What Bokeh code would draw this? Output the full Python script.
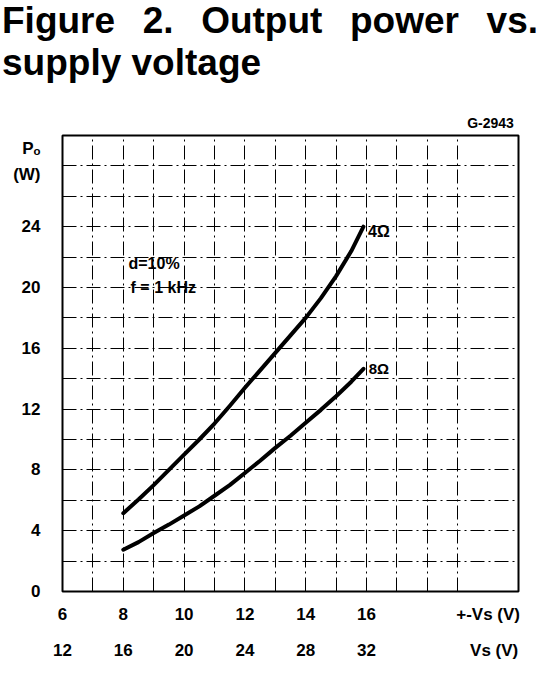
from bokeh.plotting import figure
from bokeh.models import Div, LinearAxis, FixedTicker, Range1d, Grid
from bokeh.layouts import column
from bokeh.embed import file_html
from bokeh.resources import INLINE
from bokeh.core.properties import value

# ---------------- data ----------------
title_text = "Figure 2. Output power vs. supply voltage"

vs_4ohm = [8, 8.5, 9, 9.5, 10, 10.5, 11, 11.5, 12, 12.5, 13, 13.5, 14, 14.5, 15, 15.5, 15.9]
po_4ohm = [5.15, 6.05, 7.0, 8.0, 9.0, 10.0, 11.05, 12.2, 13.4, 14.55, 15.7, 16.85, 18.0, 19.3, 20.75, 22.4, 24.0]
vs_8ohm = [8, 8.5, 9, 9.5, 10, 10.5, 11, 11.5, 12, 12.5, 13, 13.5, 14, 14.5, 15, 15.5, 15.9]
po_8ohm = [2.75, 3.25, 3.85, 4.4, 5.0, 5.6, 6.3, 7.0, 7.8, 8.6, 9.45, 10.25, 11.1, 11.95, 12.85, 13.8, 14.65]

x_ticks = [6, 8, 10, 12, 14, 16]
x_tick_labels_pm = ["6", "8", "10", "12", "14", "16"]
x_tick_labels_vs = ["12", "16", "20", "24", "28", "32"]
x_axis_name_pm = "+-Vs (V)"
x_axis_name_vs = "Vs (V)"
y_ticks = [0, 4, 8, 12, 16, 20, 24]
y_axis_name = ["Pₒ", "(W)"]
drawing_code = "G-2943"
x_grid_lines = [7, 8, 9, 10, 11, 12, 13, 14, 15, 16, 17, 18, 19]
y_grid_lines = [2, 4, 6, 8, 10, 12, 14, 16, 18, 20, 22, 24, 26, 28]

FONT = "Liberation Sans"
NARROW = "'Liberation Sans Narrow', 'Liberation Sans'"

# ---------------- title ----------------
div = Div(
    text=("<div style=\"padding-left:2px;width:538px;color:#000;"
          "font-family:'Liberation Sans',Arial,sans-serif;font-weight:bold;"
          "font-size:37px;line-height:41.5px;text-align:justify;\">"
          + title_text + "</div>"),
    width=540, height=83, margin=(0, 0, 0, 0),
)

# ---------------- figure ----------------
p = figure(width=539, height=586, x_range=Range1d(6, 21), y_range=Range1d(0, 30),
           output_backend="svg", toolbar_location=None,
           x_axis_type=None, y_axis_type=None,
           min_border_left=62, min_border_right=21, min_border_top=52, min_border_bottom=78)
p.outline_line_color = "black"
p.outline_line_width = 2
p.background_fill_color = "white"
p.border_fill_color = "white"


def style_axis(ax, standoff, size="17px"):
    ax.major_tick_out = 0
    ax.major_tick_in = 0
    ax.minor_tick_out = 0
    ax.minor_tick_in = 0
    ax.axis_line_color = None
    ax.major_label_standoff = standoff
    ax.major_label_text_font = NARROW
    ax.major_label_text_font_style = "bold"
    ax.major_label_text_font_size = size
    ax.major_label_text_color = "black"


yax = LinearAxis(ticker=FixedTicker(ticks=y_ticks + [27.42, 29.16]))
style_axis(yax, 22)
ovy = {t: str(t) for t in y_ticks}
ovy[27.42] = y_axis_name[1]
ovy[29.16] = y_axis_name[0]
yax.major_label_overrides = ovy
p.add_layout(yax, "left")

xax1 = LinearAxis(ticker=FixedTicker(ticks=x_ticks + [20.0]))
style_axis(xax1, 13)
ov1 = {t: l for t, l in zip(x_ticks, x_tick_labels_pm)}
ov1[20.0] = x_axis_name_pm
xax1.major_label_overrides = ov1
p.add_layout(xax1, "below")

xax2 = LinearAxis(ticker=FixedTicker(ticks=x_ticks + [20.2]))
style_axis(xax2, 14)
ov2 = {t: l for t, l in zip(x_ticks, x_tick_labels_vs)}
ov2[20.2] = x_axis_name_vs
xax2.major_label_overrides = ov2
p.add_layout(xax2, "below")

xtop = LinearAxis(ticker=FixedTicker(ticks=[20.08]))
style_axis(xtop, 5, "14px")
xtop.major_label_overrides = {20.08: drawing_code}
p.add_layout(xtop, "above")

gx = Grid(dimension=0, ticker=FixedTicker(ticks=x_grid_lines),
          grid_line_color="black", grid_line_width=1, grid_line_dash="14 4 2 4")
gy = Grid(dimension=1, ticker=FixedTicker(ticks=y_grid_lines),
          grid_line_color="black", grid_line_width=1, grid_line_dash="14 4 2 4")
p.add_layout(gx)
p.add_layout(gy)

p.line(vs_4ohm, po_4ohm, line_color="black", line_width=4, line_join="round", line_cap="round")
p.line(vs_8ohm, po_8ohm, line_color="black", line_width=4, line_join="round", line_cap="round")

txt = dict(text_font=value(NARROW), text_font_style="bold", text_color="black",
           text_baseline="middle", text_align="left")
p.text(x=[16.05], y=[23.7], text=["4Ω"], text_font_size="16px", **txt)
p.text(x=[16.07], y=[14.7], text=["8Ω"], text_font_size="15px", **txt)
p.text(x=[8.17], y=[21.6], text=["d=10%"], text_font_size="16px", **txt)
p.text(x=[8.24], y=[20.0], text=["f = 1 kHz"], text_font_size="16px", **txt)

layout = column(div, p)
open("out.html", "w").write(file_html(layout, INLINE))
